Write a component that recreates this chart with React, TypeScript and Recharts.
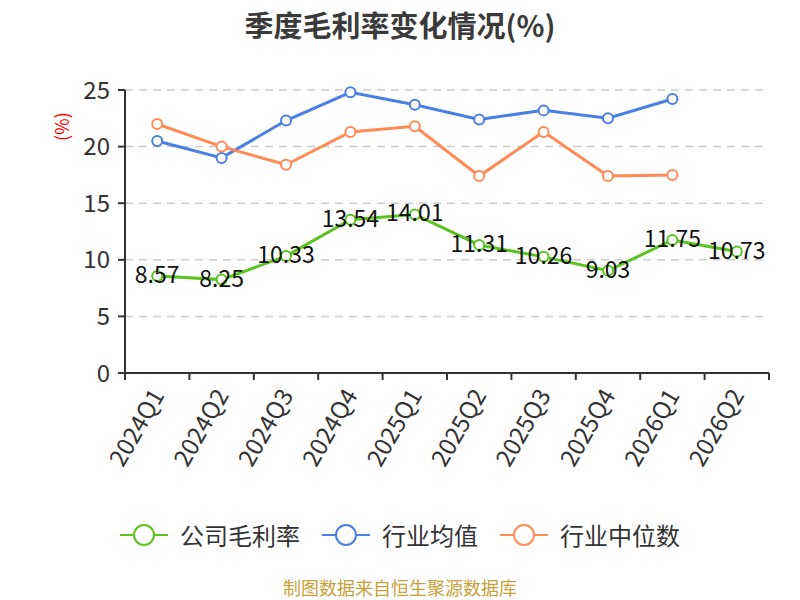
import React from "react";
import { LineChart, Line, XAxis, YAxis, CartesianGrid, LabelList } from "recharts";

const categories = ["2024Q1", "2024Q2", "2024Q3", "2024Q4", "2025Q1", "2025Q2", "2025Q3", "2025Q4", "2026Q1", "2026Q2"];
const companyMargin = [8.57, 8.25, 10.33, 13.54, 14.01, 11.31, 10.26, 9.03, 11.75, 10.73];
const industryAvg: (number | null)[] = [20.5, 19.0, 22.3, 24.8, 23.7, 22.4, 23.2, 22.5, 24.2, null];
const industryMedian: (number | null)[] = [22.0, 20.0, 18.4, 21.3, 21.8, 17.4, 21.3, 17.4, 17.5, null];
const yTicks = [0, 5, 10, 15, 20, 25];

const seriesNames = ["公司毛利率", "行业均值", "行业中位数"];
const colors = ["#5ac31f", "#4a7fe3", "#ff8a55"];

const data = categories.map((c, i) => ({
  name: c,
  company: companyMargin[i],
  avg: industryAvg[i],
  median: industryMedian[i],
}));

const W = 800;
const H = 600;
const M = { top: 90, right: 31, bottom: 126, left: 65 };
const YW = 60;
const plotW = W - M.left - YW - M.right;
const band = plotW / categories.length;
const FONT = "'Noto Sans CJK SC', 'Noto Sans', sans-serif";

const XTick = (props: any) => {
  const { x, y, payload, index } = props;
  const ax = x - 1;
  const ay = y + 17;
  return (
    <g>
      <line x1={x - band / 2} y1={y} x2={x - band / 2} y2={y + 7} stroke="#333" strokeWidth={2} />
      {index === categories.length - 1 && (
        <line x1={x + band / 2} y1={y} x2={x + band / 2} y2={y + 7} stroke="#333" strokeWidth={2} />
      )}
      <text
        x={ax}
        y={ay}
        textAnchor="end"
        dominantBaseline="central"
        transform={`rotate(-60, ${ax}, ${ay})`}
        fill="#333"
        fontSize={24}
        fontFamily={FONT}
      >
        {payload.value}
      </text>
    </g>
  );
};

const DataLabel = (props: any) => {
  const { x, y, value } = props;
  return (
    <text x={x} y={y - 3} textAnchor="middle" dominantBaseline="central" fill="#111" fontSize={23} fontFamily={FONT}>
      {value}
    </text>
  );
};

export default function App() {
  return (
    <div style={{ position: "relative", width: W, height: H, background: "#fff", fontFamily: FONT, overflow: "hidden" }}>
      <style>{"body{margin:0}"}</style>
      <div style={{ position: "absolute", top: 3, left: 0, width: W, textAlign: "center", fontSize: 29, fontWeight: "bold", color: "#3a3a3a" }}>
        季度毛利率变化情况(%)
      </div>
      <div style={{ position: "absolute", top: 517, left: 0, width: W, display: "flex", justifyContent: "center", alignItems: "center" }}>
        {seriesNames.map((n, i) => (
          <div key={n} style={{ display: "flex", alignItems: "center", marginRight: i < 2 ? 22 : 0 }}>
            <svg width={48} height={24} style={{ marginRight: 12 }}>
              <line x1={0} y1={12} x2={48} y2={12} stroke={colors[i]} strokeWidth={2} />
              <circle cx={24} cy={12} r={10} fill="#fff" stroke={colors[i]} strokeWidth={2} />
            </svg>
            <span style={{ fontSize: 24, color: "#333" }}>{n}</span>
          </div>
        ))}
      </div>
      <div style={{ position: "absolute", top: 577, left: 0, width: W, height: 20, lineHeight: "20px", textAlign: "center", fontSize: 18, color: "#c9a03a" }}>
        制图数据来自恒生聚源数据库
      </div>
      <LineChart width={W} height={500} data={data} margin={M} style={{ position: "absolute", top: 0, left: 0 }}>
        <CartesianGrid horizontal vertical={false} stroke="#ccc" strokeDasharray="8 6" strokeWidth={1.5} />
        <XAxis
          dataKey="name"
          interval={0}
          tickSize={0}
          tickMargin={0}
          padding={{ left: band / 2, right: band / 2 }}
          tick={<XTick />}
          axisLine={{ stroke: "#333", strokeWidth: 2 }}
          tickLine={false}
          height={1}
        />
        <YAxis
          domain={[0, 25]}
          ticks={yTicks}
          interval={0}
          width={YW}
          tickSize={7}
          tickMargin={8}
          axisLine={{ stroke: "#333", strokeWidth: 2 }}
          tickLine={{ stroke: "#333", strokeWidth: 2 }}
          tick={{ fontSize: 24, fill: "#333", fontFamily: FONT }}
          label={{ value: "(%)", angle: -90, position: "insideTopLeft", dx: -14, dy: 46, fill: "red", fontSize: 18, fontFamily: FONT }}
        />
        <Line
          type="linear"
          dataKey="company"
          name={seriesNames[0]}
          stroke={colors[0]}
          strokeWidth={3}
          dot={{ r: 5, fill: "#fff", stroke: colors[0], strokeWidth: 2 }}
          isAnimationActive={false}
        >
          <LabelList dataKey="company" content={<DataLabel />} />
        </Line>
        <Line
          type="linear"
          dataKey="avg"
          name={seriesNames[1]}
          stroke={colors[1]}
          strokeWidth={3}
          dot={{ r: 5, fill: "#fff", stroke: colors[1], strokeWidth: 2 }}
          isAnimationActive={false}
        />
        <Line
          type="linear"
          dataKey="median"
          name={seriesNames[2]}
          stroke={colors[2]}
          strokeWidth={3}
          dot={{ r: 5, fill: "#fff", stroke: colors[2], strokeWidth: 2 }}
          isAnimationActive={false}
        />
      </LineChart>
    </div>
  );
}
